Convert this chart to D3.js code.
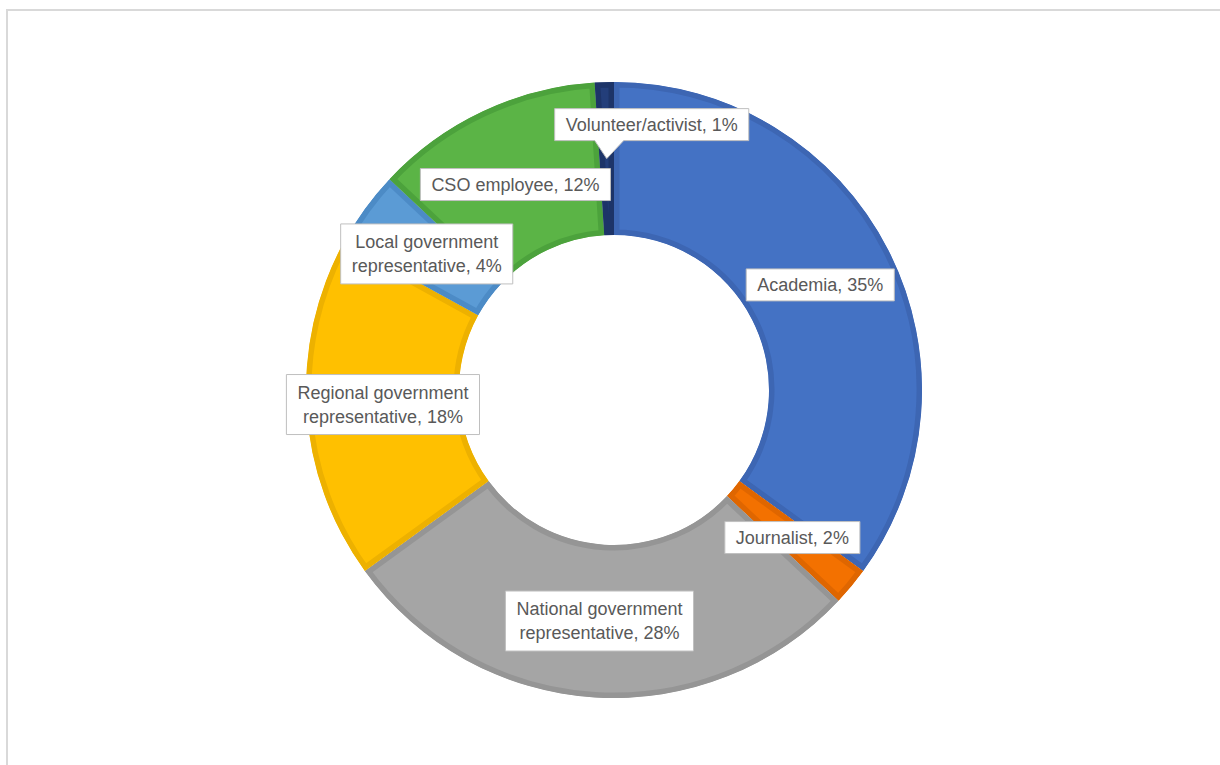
<!DOCTYPE html>
<html><head><meta charset="utf-8">
<script src="https://cdn.jsdelivr.net/npm/d3@7"></script>
<style>body{margin:0;background:#fff;} text{font-family:"Liberation Sans",Arial,sans-serif;}</style>
</head><body>
<svg id="chart" width="1220" height="765"></svg>
<script>
const categories = ["Academia","Journalist","National government representative","Regional government representative","Local government representative","CSO employee","Volunteer/activist"];
const values = [35, 2, 28, 18, 4, 12, 1];
const labelLines = [["Academia, 35%"],["Journalist, 2%"],["National government","representative, 28%"],["Regional government","representative, 18%"],["Local government","representative, 4%"],["CSO employee, 12%"],["Volunteer/activist, 1%"]];
const fills = ["#4472C4","#F37100","#A5A5A5","#FFC000","#5B9BD5","#5BB446","#233E7A"];
const edges = ["#3D66B3","#DF6600","#959595","#EDB100","#4C8BC6","#4CA23C","#1D3468"];

const svg = d3.select("#chart");
svg.append("rect").attr("x",7).attr("y",10).attr("width",1240).attr("height",800)
  .attr("fill","none").attr("stroke","#d9d9d9").attr("stroke-width",2);

const cx = 614, cy = 390, rOut = 308, rIn = 155;
const pie = d3.pie().sort(null).value(d=>d)(values);
const arc = d3.arc().innerRadius(rIn).outerRadius(rOut);
const g = svg.append("g").attr("transform",`translate(${cx},${cy})`);
const defs = svg.append("defs");
pie.forEach((d,i)=>{
  defs.append("clipPath").attr("id","clip"+i).append("path").attr("d",arc(d));
  g.append("path").attr("d",arc(d)).attr("fill",fills[i])
    .attr("stroke",edges[i]).attr("stroke-width",11).attr("stroke-linejoin","miter")
    .attr("clip-path",`url(#clip${i})`);
});

const fs = 18, lh = 24, padX = 11, padY = 6;
const lg = svg.append("g");
pie.forEach((d,i)=>{
  const [x0,y0] = arc.centroid(d);
  let x = cx + x0, y = cy + y0;
  const lines = labelLines[i];
  const callout = i === 6;
  let tipX = x, tipY = y;
  if (callout) { x = x + 45; y = y - 34; }
  if (i === 5) { y = y + 4; }
  const grp = lg.append("g");
  const box = grp.append("path");
  const t = grp.append("text").attr("fill","#595959").attr("font-size",fs).attr("text-anchor","middle");
  const n = lines.length;
  lines.forEach((s,k)=>{
    t.append("tspan").attr("x",x).attr("y", y + (k-(n-1)/2)*lh).attr("dy","0.35em").text(s);
  });
  const w = t.node().getBBox().width + 2*padX;
  const h = n*lh + 2*padY + (n===1?-4:0);
  const L = x - w/2, R = x + w/2, T = y - h/2, B = y + h/2;
  let p;
  if (callout) {
    p = `M${L},${T}H${R}V${B}H${tipX+17}L${tipX},${tipY}L${tipX-12},${B}H${L}Z`;
  } else {
    p = `M${L},${T}H${R}V${B}H${L}Z`;
  }
  box.attr("d",p).attr("fill","#fff").attr("stroke","#bfbfbf").attr("stroke-width",1);
});
</script>
</body></html>
